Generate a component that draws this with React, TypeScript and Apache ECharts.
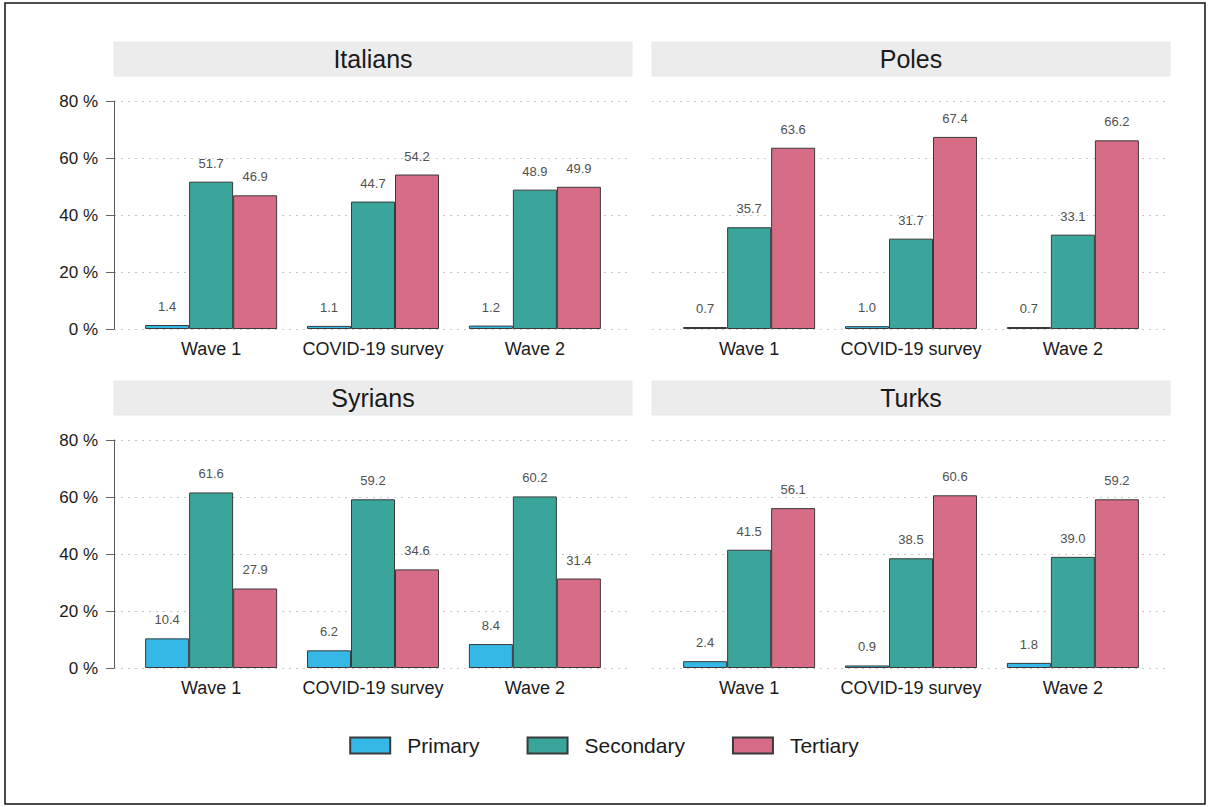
import React, { useEffect, useRef } from "react";
import * as echarts from "echarts";

const categories = ["Wave 1", "COVID-19 survey", "Wave 2"];
const panels = ["Italians", "Poles", "Syrians", "Turks"];
const levels = ["Primary", "Secondary", "Tertiary"];
const yTicks = [0, 20, 40, 60, 80];

const italiansPrimary = [1.4, 1.1, 1.2];
const italiansSecondary = [51.7, 44.7, 48.9];
const italiansTertiary = [46.9, 54.2, 49.9];
const polesPrimary = [0.7, 1.0, 0.7];
const polesSecondary = [35.7, 31.7, 33.1];
const polesTertiary = [63.6, 67.4, 66.2];
const syriansPrimary = [10.4, 6.2, 8.4];
const syriansSecondary = [61.6, 59.2, 60.2];
const syriansTertiary = [27.9, 34.6, 31.4];
const turksPrimary = [2.4, 0.9, 1.8];
const turksSecondary = [41.5, 38.5, 39.0];
const turksTertiary = [56.1, 60.6, 59.2];

const panelData = [
  [italiansPrimary, italiansSecondary, italiansTertiary],
  [polesPrimary, polesSecondary, polesTertiary],
  [syriansPrimary, syriansSecondary, syriansTertiary],
  [turksPrimary, turksSecondary, turksTertiary],
];

const colors = ["#35B8E6", "#3AA59A", "#D66C86"];
const FONT = "'Liberation Sans', Arial, sans-serif";

export default function App() {
  const ref = useRef<HTMLDivElement>(null);
  useEffect(() => {
    if (!ref.current) return;
    const chart = echarts.init(ref.current, undefined, { renderer: "svg" });
    const lefts = [114, 652, 114, 652];
    const tops = [101, 101, 440, 440];
    const W = 518;
    const H = 228;
    const grids = panels.map((_, i) => ({ left: lefts[i], top: tops[i], width: W, height: H, containLabel: false }));
    const xAxes = panels.map((_, i) => ({
      type: "value",
      gridIndex: i,
      min: 0.4,
      max: 3.6,
      axisLine: { show: false },
      axisTick: { show: false },
      splitLine: { show: false },
      axisLabel: {
        customValues: [1, 2, 3],
        formatter: (v: number) => categories[Math.round(v) - 1] ?? "",
        fontSize: 18,
        color: "#1a1a1a",
        fontFamily: FONT,
        margin: 11,
      },
    }));
    const yAxes = panels.map((_, i) => {
      const showAxis = i % 2 === 0;
      return {
        type: "value",
        gridIndex: i,
        min: yTicks[0],
        max: yTicks[yTicks.length - 1],
        interval: 20,
        axisLine: { show: showAxis, lineStyle: { color: "#555", width: 1 } },
        axisTick: { show: showAxis, length: 8, lineStyle: { color: "#666" } },
        axisLabel: {
          show: showAxis,
          formatter: (v: number) => `${v} %`,
          fontSize: 17,
          color: "#1a1a1a",
          fontFamily: FONT,
          margin: 16,
        },
        splitLine: { show: true, lineStyle: { color: "#c8c8c8", type: [2, 5], width: 1 } },
      };
    });
    const series: any[] = [];
    panelData.forEach((pd, i) => {
      pd.forEach((vals, j) => {
        series.push({
          type: "bar",
          name: levels[j],
          xAxisIndex: i,
          yAxisIndex: i,
          barWidth: 44,
          barGap: "0%",
          data: vals.map((v, k) => [k + 1, v]),
          itemStyle: { color: colors[j], borderColor: "#3a3a3a", borderWidth: 1 },
          label: {
            show: true,
            position: "top",
            distance: 12,
            formatter: (p: any) => Number(p.value[1]).toFixed(1),
            fontSize: 13,
            color: "#505050",
            fontFamily: FONT,
          },
        });
      });
    });
    const headerRects: any[] = [];
    panels.forEach((name, i) => {
      const y = i < 2 ? 42 : 381;
      headerRects.push({
        type: "rect",
        shape: { x: lefts[i], y, width: W, height: 34 },
        style: { fill: "#ececec", stroke: "#e4e9ec", lineWidth: 1 },
        silent: true,
      });
      headerRects.push({
        type: "text",
        x: lefts[i] + W / 2,
        y: y + 17,
        style: {
          text: name,
          fontSize: 25,
          fontFamily: FONT,
          fill: "#1a1a1a",
          textAlign: "center",
          textVerticalAlign: "middle",
        },
        silent: true,
      });
    });
    chart.setOption({
      animation: false,
      backgroundColor: "#fff",
      grid: grids,
      xAxis: xAxes,
      yAxis: yAxes,
      series,
      legend: {
        data: levels,
        left: "center",
        top: 730,
        itemWidth: 40,
        itemHeight: 16,
        itemGap: 47,
        icon: "rect",
        textStyle: { fontSize: 21, color: "#1a1a1a", fontFamily: FONT, padding: [0, 0, 0, 12] },
      },
      graphic: [
        {
          type: "rect",
          shape: { x: 5, y: 3, width: 1200, height: 801 },
          style: { fill: "none", stroke: "#111", lineWidth: 1.5 },
          silent: true,
        },
        ...headerRects,
      ],
    });
    return () => chart.dispose();
  }, []);
  return (
    <div
      ref={ref}
      style={{ position: "fixed", left: 0, top: 0, width: 1208, height: 807 }}
    />
  );
}
